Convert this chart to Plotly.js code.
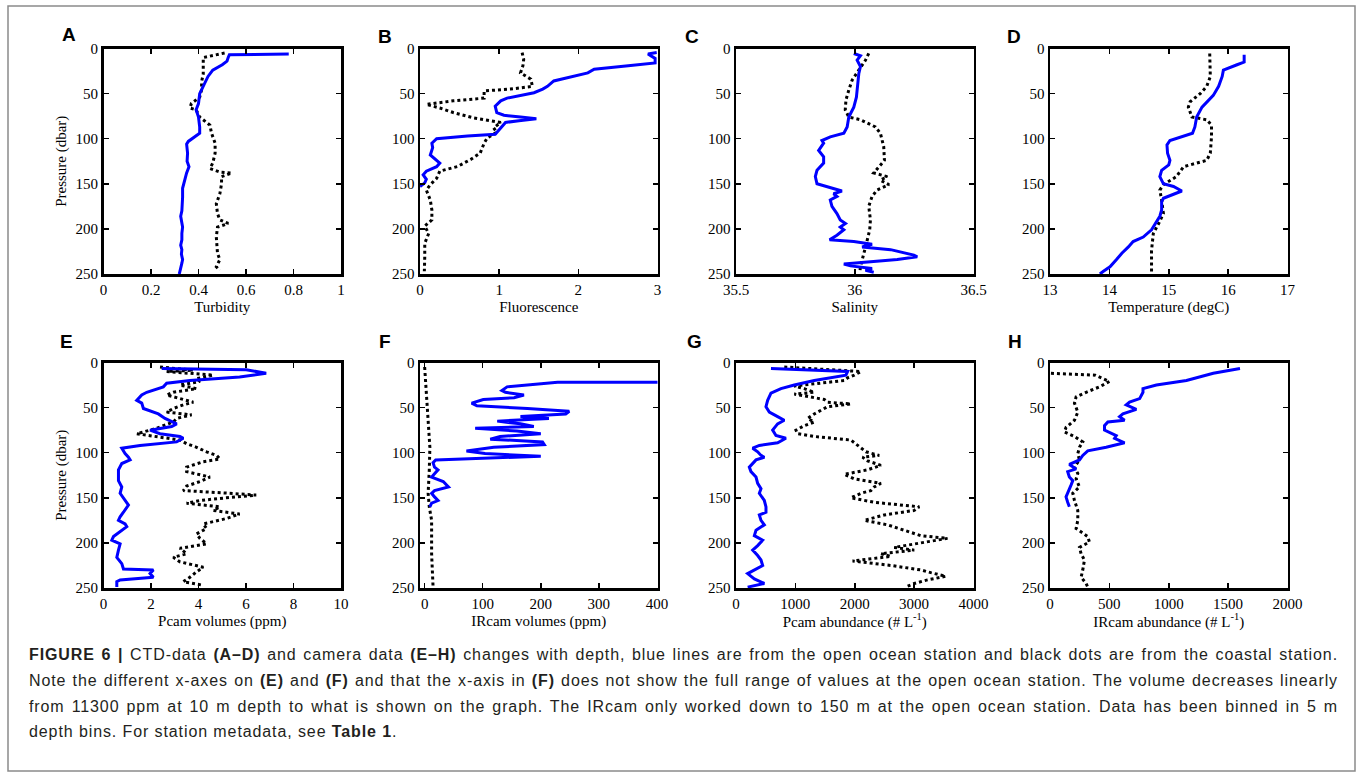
<!DOCTYPE html>
<html>
<head>
<meta charset="utf-8">
<script src="https://cdn.plot.ly/plotly-3.0.1.min.js"></script>
<style>
html,body{margin:0;padding:0;background:#fff;}
#chart{width:1357px;height:777px;}
</style>
</head>
<body>
<div id="chart"></div>
<script>
// ---------- Data (pressure in dbar) ----------
// A: Turbidity
const aDepthOpen = [6,7,10,14,18,24,31,42,50,61,68,76,87,94,98,103,106,116,125,131,138,150,155,165,172,180,186,192,198,205,212,218,223,228,234,238,242,250];
const aOpen = [0.78,0.53,0.525,0.52,0.50,0.46,0.44,0.42,0.405,0.40,0.39,0.40,0.405,0.405,0.385,0.357,0.35,0.354,0.352,0.36,0.35,0.34,0.333,0.333,0.332,0.33,0.325,0.33,0.333,0.33,0.33,0.325,0.33,0.328,0.333,0.33,0.326,0.319];
const aDepthCoast = [5,10,17,28,37,46,54,61,66,68,76,79,85,94,105,116,127,133,137,138,142,150,161,172,183,190,194,198,209,227,234,242,246];
const aCoast = [0.51,0.42,0.42,0.42,0.413,0.413,0.405,0.37,0.364,0.39,0.405,0.42,0.448,0.455,0.47,0.47,0.46,0.448,0.49,0.54,0.497,0.497,0.49,0.475,0.48,0.49,0.525,0.48,0.475,0.48,0.49,0.475,0.49];

// B: Fluorescence
const bDepthOpen = [4.5,6,11,16,19,23,27,32,36,42,45,49,52,55,58,64,71,74,76,78,80,82,90,95,97,100,105,110,118,127,131,136,140,145,149,153];
const bOpen = [2.99,2.88,2.97,2.97,2.63,2.20,2.12,1.86,1.69,1.61,1.55,1.44,1.27,1.10,1.02,0.95,0.97,1.06,1.27,1.47,1.25,1.08,1.00,0.95,0.60,0.21,0.15,0.16,0.13,0.25,0.21,0.08,0.04,0.08,0.06,0];
const bDepthCoast = [4.5,12,19,27,34,42,45,47,55,58,62,66,71,77,82,88,93,99,105,116,123,131,136,144,151,157,168,179,190,197,205,216,231,247];
const bCoast = [1.29,1.31,1.30,1.27,1.40,1.42,1.14,0.81,0.81,0.42,0.08,0.25,0.42,0.68,1.02,0.93,0.97,0.85,0.81,0.76,0.64,0.47,0.25,0.21,0.13,0.08,0.13,0.15,0.15,0.06,0.11,0.06,0.06,0.055];

// C: Salinity
const cDepthOpen = [5.5,8,13,20,28,42,54,65,76,87,94,98,102,105,113,120,127,135,142,150,153,158,161,164,168,175,183,190,194,198,201,207,212,214,217,220,223,229,231,234,239,241,244,246,248];
const cOpen = [35.996,36.024,36.01,36.024,36.017,36.01,36.007,35.996,35.975,35.968,35.954,35.897,35.862,35.869,35.848,35.869,35.869,35.841,35.834,35.841,35.883,35.946,35.911,35.925,35.897,35.904,35.925,35.939,35.961,35.939,35.954,35.925,35.894,35.996,36.073,36.031,36.151,36.249,36.263,36.179,35.954,35.982,36.073,36.045,36.08];
const cDepthCoast = [5.5,13,24,35,46,57,68,76,79,87,94,109,124,131,138,142,146,151,157,164,175,190,201,213,227,242,249];
const cCoast = [36.059,36.045,36.017,35.989,35.975,35.963,35.96,35.975,36.024,36.087,36.108,36.122,36.125,36.101,36.08,36.137,36.108,36.144,36.094,36.073,36.059,36.066,36.063,36.052,36.038,36.024,36.021];

// D: Temperature
const dDepthOpen = [7,15,18,24,31,42,52,57,65,76,87,94,98,102,107,116,124,129,135,142,150,153,158,162,166,170,179,186,194,201,209,214,220,227,234,242,247,250];
const dOpen = [16.27,16.27,16.15,15.92,15.90,15.84,15.75,15.67,15.56,15.47,15.44,15.40,15.19,15.02,14.97,14.98,15.02,15.0,14.88,14.85,14.91,15.08,15.22,15.08,14.91,14.88,14.88,14.85,14.77,14.71,14.57,14.40,14.32,14.21,14.12,14.01,13.9,13.84];
const dDepthCoast = [5.5,17,31,42,50,59,65,76,79,85,98,116,124,131,142,151,157,168,183,194,205,224,249];
const dCoast = [15.69,15.69,15.70,15.64,15.53,15.36,15.33,15.39,15.64,15.72,15.72,15.70,15.64,15.25,15.13,14.91,14.85,14.88,14.91,14.83,14.74,14.71,14.71];

// E: Pcam volumes (ppm)
const eDepthOpen = [6.7,8,12,16,20,23,27,33,36,42,45,51,57,62,68,71,75,79,82,84,88,92,95,101,105,108,112,119,131,138,145,153,158,166,171,175,179,182,188,193,197,201,208,216,223,229,230,234,238,241,243,249];
const eOpen = [2.45,6.01,6.85,5.73,3.64,2.66,2.52,1.82,1.61,1.40,1.61,1.68,2.31,2.59,3.08,2.87,1.96,2.38,3.22,3.36,3.08,1.54,0.77,0.91,1.05,1.12,0.77,0.63,0.63,0.77,0.70,0.91,1.05,0.84,0.70,0.63,0.91,0.98,0.70,0.42,0.35,0.70,0.63,0.56,0.77,0.84,2.10,1.96,2.10,0.70,0.56,0.56];
const eDepthCoast = [5,8.5,10,14,18,21,25,29,33,36,40,44,47,51,55,58,62,66,70,73,79,82,86,90,94,99,103,107,110,116,121,127,132,137,142,145,147,150,153,156,160,164,168,173,179,184,190,195,201,206,212,216,221,227,232,238,243,247];
const eCoast = [2.38,3.78,2.66,4.62,3.92,4.06,3.22,3.92,2.94,2.66,3.22,3.78,3.36,2.94,2.66,3.71,3.08,2.94,2.52,2.24,1.40,2.10,3.22,3.50,3.92,4.34,4.76,4.90,4.20,3.50,3.50,4.48,4.06,3.50,3.36,5.31,6.43,5.17,4.06,3.50,4.90,4.62,5.73,5.17,4.20,4.34,3.92,4.06,4.34,3.22,3.50,2.94,3.22,4.20,3.92,3.64,3.36,4.20];

// F: IRcam volumes (ppm) - open ocean starts at 11300 ppm at 10 m
const fDepthOpen = [10,22,27,31,33,36,39,41,45,48,51,54,57,60,62,65,68,71,73,76,79,82,85,88,91,94,98,101,104,107,108,111,116,119,123,127,132,138,142,145,149,153,156,160];
const fOpen = [11300,229,142,133,139,171,154,101,81,90,177,249,243,165,214,125,165,188,87,159,200,130,113,203,206,119,72,104,200,72,19,14.5,17,23,17,12,32,41,17,12,17,23,12,9];
const fDepthCoast = [5,27,64,94,119,145,160,175,212,249];
const fCoast = [0,2,6,9,8,6,8,12,12,14.5];

// G: Pcam abundance (# L-1)
const gDepthOpen = [6.7,8,10,14,20,25,29,34,42,49,55,60,64,68,73,75,81,84,89,92,95,99,103,105,108,112,116,121,127,134,140,145,153,160,166,169,175,180,186,192,197,203,208,214,219,225,229,234,240,245,249];
const gOpen = [589,1094,1880,1851,1318,982,757,589,533,505,561,701,813,701,645,617,673,841,701,393,281,365,421,477,337,281,224,252,337,365,421,393,477,505,505,393,421,477,337,309,449,365,281,365,421,449,337,196,309,477,196];
const gDepthCoast = [5,7,8.5,10,14,17,20,23,26,29,33,35,38,41,44,46,49,53,57,62,66,70,75,79,82,86,92,95,99,103,105,109,114,119,124,129,134,138,142,145,150,155,160,164,169,175,180,186,192,195,199,205,208,212,215,220,225,230,233,237,241,245,248];
const gCoast = [813,1431,1711,2104,1992,1880,1823,1431,982,1150,1318,982,1206,1487,1543,1935,1543,1431,1318,1206,1318,1150,1010,1038,1318,1935,2047,2104,2188,2412,2132,2216,2440,2216,1823,1992,2440,2328,2272,2104,1935,2328,3086,3002,2496,2160,2553,2833,3114,3562,3226,2665,3002,2440,2609,1964,2609,3114,3282,3534,3226,3002,2889];

// H: IRcam abundance (# L-1)
const hDepthOpen = [6.7,12,20,25,29,33,40,44,47,52,57,60,64,66,70,75,81,84,89,94,98,103,108,113,118,121,127,131,136,140,145,149,155,160];
const hOpen = [1600,1375,1149,896,783,783,755,670,642,727,614,586,628,487,459,459,558,544,628,473,318,276,248,163,220,149,163,192,177,163,149,135,149,163];
const hDepthCoast = [12,14,21,27,33,38,45,55,64,72,77,82,88,94,101,108,116,123,129,138,145,153,164,175,184,193,199,205,212,219,230,238,245,249];
const hCoast = [8,380,501,417,304,220,206,234,206,135,121,206,276,248,234,248,206,234,220,248,192,206,234,234,220,318,332,248,262,290,276,262,304,318];

// Axis labels / ticks
const panelLetters = ["A","B","C","D","E","F","G","H"];
const xTitles = ["Turbidity","Fluorescence","Salinity","Temperature (degC)","Pcam volumes (ppm)","IRcam volumes (ppm)","Pcam abundance (# L<sup>-1</sup>)","IRcam abundance (# L<sup>-1</sup>)"];
const xRanges = [[0,1],[0,3],[35.5,36.5],[13,17],[0,10],[-8,401],[0,4000],[0,2000]];
const xTicks = [[0,0.2,0.4,0.6,0.8,1],[0,1,2,3],[35.5,36,36.5],[13,14,15,16,17],[0,2,4,6,8,10],[0,100,200,300,400],[0,1000,2000,3000,4000],[0,500,1000,1500,2000]];
const xTickText = [["0","0.2","0.4","0.6","0.8","1"],["0","1","2","3"],["35.5","36","36.5"],["13","14","15","16","17"],["0","2","4","6","8","10"],["0","100","200","300","400"],["0","1000","2000","3000","4000"],["0","500","1000","1500","2000"]];
const yTicks = [0,50,100,150,200,250];
const yTitle = "Pressure (dbar)";

const openSeries = [[aDepthOpen,aOpen],[bDepthOpen,bOpen],[cDepthOpen,cOpen],[dDepthOpen,dOpen],[eDepthOpen,eOpen],[fDepthOpen,fOpen],[gDepthOpen,gOpen],[hDepthOpen,hOpen]];
const coastSeries = [[aDepthCoast,aCoast],[bDepthCoast,bCoast],[cDepthCoast,cCoast],[dDepthCoast,dCoast],[eDepthCoast,eCoast],[fDepthCoast,fCoast],[gDepthCoast,gCoast],[hDepthCoast,hCoast]];

// ---------- Layout geometry (pixels) ----------
const W = 1357, H = 777;
const plotLefts = [103.5,420,736,1050,103.5,420,736,1050];
const plotW = 237.5;
const rowTop = [48.5,362.5], plotH = 225.5;
const letterPos = [[69,35],[385,36],[692,36],[1014,36],[66,341],[385,341],[694,341],[1015,341]];

const serif = "Liberation Serif";
const sans = "Liberation Sans";

const traces = [];
const layout = {
  width: W, height: H,
  margin: {l:0,r:0,t:0,b:0,pad:0},
  paper_bgcolor: "#fff", plot_bgcolor: "#fff",
  showlegend: false,
  annotations: [],
  shapes: [{type:"rect", xref:"paper", yref:"paper",
    x0: 8/W, x1: 1355/W, y0: 1-771/H, y1: 1-6/H,
    line:{color:"#8a8a8a", width:1.5}, fillcolor:"rgba(0,0,0,0)"}]
};

for (let i = 0; i < 8; i++) {
  const n = i + 1;
  const xa = "x" + (n === 1 ? "" : n), ya = "y" + (n === 1 ? "" : n);
  const row = i < 4 ? 0 : 1;
  const x0 = plotLefts[i] / W, x1 = (plotLefts[i] + plotW) / W;
  const yTopPx = rowTop[row], yBotPx = rowTop[row] + plotH;
  traces.push({x: coastSeries[i][1], y: coastSeries[i][0], xaxis: xa, yaxis: ya,
    type: "scatter", mode: "lines", line: {color: "#000", width: 3, dash: "dot"}, hoverinfo: "skip"});
  traces.push({x: openSeries[i][1], y: openSeries[i][0], xaxis: xa, yaxis: ya,
    type: "scatter", mode: "lines", line: {color: "#0000ff", width: 3}, hoverinfo: "skip"});
  const common = {showgrid:false, zeroline:false, showline:true, linecolor:"#000", linewidth:2.5,
    mirror:"ticks", ticks:"inside", ticklen:5, tickwidth:1.5, tickcolor:"#000",
    tickfont:{family:serif, size:15, color:"#000"}, fixedrange:true};
  layout["xaxis" + (n === 1 ? "" : n)] = Object.assign({}, common, {
    domain:[x0, x1], anchor: ya, range: xRanges[i],
    tickmode:"array", tickvals: xTicks[i], ticktext: xTickText[i],
    title:{text: xTitles[i], font:{family:serif, size:15, color:"#000"}, standoff: 5}
  });
  const yax = Object.assign({}, common, {
    domain:[1 - yBotPx / H, 1 - yTopPx / H], anchor: xa, range:[250, 0],
    tickmode:"array", tickvals: yTicks
  });
  if (i === 0 || i === 4) yax.title = {text: yTitle, font:{family:serif, size:15, color:"#000"}, standoff: 6};
  layout["yaxis" + (n === 1 ? "" : n)] = yax;
  layout.annotations.push({xref:"paper", yref:"paper", x: letterPos[i][0] / W, y: 1 - letterPos[i][1] / H,
    xanchor:"center", yanchor:"middle", showarrow:false,
    text: "<b>" + panelLetters[i] + "</b>", font:{family:sans, size:19, color:"#000"}});
}

// ---------- Caption ----------
const captionLines = [
  "<b>FIGURE 6 |</b> CTD-data <b>(A–D)</b> and camera data <b>(E–H)</b> changes with depth, blue lines are from the open ocean station and black dots are from the coastal station.",
  "Note the different x-axes on <b>(E)</b> and <b>(F)</b> and that the x-axis in <b>(F)</b> does not show the full range of values at the open ocean station. The volume decreases linearly",
  "from 11300 ppm at 10 m depth to what is shown on the graph. The IRcam only worked down to 150 m at the open ocean station. Data has been binned in 5 m",
  "depth bins. For station metadata, see <b>Table 1</b>."
];
const captionY = [654, 680, 706, 731];
const captionLeft = 28, captionRight = 1337;
captionLines.forEach(function(t, k){
  layout.annotations.push({xref:"paper", yref:"paper", x: (captionLeft - 1) / W, y: 1 - captionY[k] / H,
    xanchor:"left", yanchor:"middle", showarrow:false, align:"left",
    text: t, font:{family:sans, size:16, color:"#231f20"}});
});

Plotly.newPlot("chart", traces, layout, {staticPlot:true, displayModeBar:false}).then(function(gd){
  // justified caption, as in the journal typesetting
  const texts = Array.from(gd.querySelectorAll("g.annotation text.annotation-text"))
    .filter(function(el){ return (el.textContent || "").length > 20; });
  texts.forEach(function(el, k){
    el.style.letterSpacing = "0.9px";
    if (k < 3) {
      const w = el.getBoundingClientRect().width;
      const spaces = (el.textContent.match(/ /g) || []).length;
      if (spaces > 0) el.style.wordSpacing = ((captionRight - captionLeft - w) / spaces) + "px";
    }
  });
});
</script>
</body>
</html>
